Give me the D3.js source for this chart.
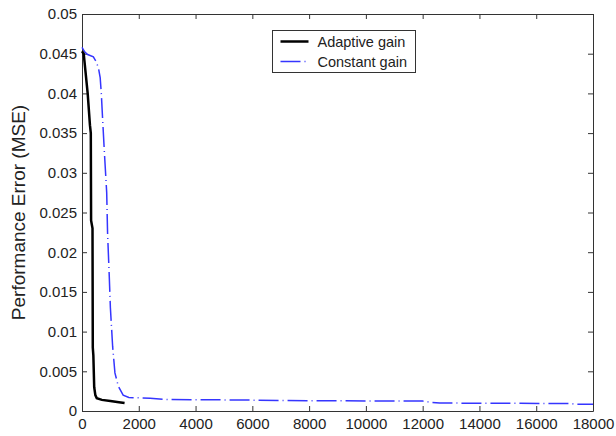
<!DOCTYPE html>
<html>
<head>
<meta charset="utf-8">
<script src="https://cdn.jsdelivr.net/npm/d3@7"></script>
<style>
  html, body { margin: 0; padding: 0; background: #fff; }
  text { font-family: "Liberation Sans", Arial, sans-serif; fill: #222; }
</style>
</head>
<body>
<div id="chart"></div>
<script>
// series names (legend)
const seriesNames = ['Adaptive gain', 'Constant gain'];

// axis ticks
const xTicks = [0, 2000, 4000, 6000, 8000, 10000, 12000, 14000, 16000, 18000];
const yTicks = [0, 0.005, 0.01, 0.015, 0.02, 0.025, 0.03, 0.035, 0.04, 0.045, 0.05];

// adaptive gain (solid black)
const adaptiveX = [0, 60, 200, 280, 310, 320, 370, 380, 400, 430, 470, 520, 700, 1000, 1300, 1500];
const adaptiveY = [0.0453, 0.045, 0.040, 0.036, 0.035, 0.024, 0.023, 0.008, 0.007, 0.003, 0.002, 0.0016, 0.0014, 0.00125, 0.0011, 0.001];

// constant gain (blue dash-dot)
const constantX = [0, 100, 200, 400, 500, 580, 640, 680, 730, 790, 870, 900, 960, 1000, 1080, 1160, 1280, 1450, 1650, 2400, 3000, 5000, 8000, 12000, 12300, 12600, 15000, 17200, 17400, 18000];
const constantY = [0.0458, 0.0452, 0.0449, 0.0446, 0.0440, 0.0432, 0.042, 0.040, 0.0365, 0.0325, 0.0275, 0.0225, 0.017, 0.013, 0.0081, 0.0048, 0.0031, 0.002, 0.0017, 0.0016, 0.00145, 0.0014, 0.0013, 0.00125, 0.0011, 0.001, 0.00097, 0.00095, 0.00085, 0.00085];

const width = 616, height = 436;
const margin = { top: 14, right: 23, bottom: 25, left: 82 };

const svg = d3.select('#chart')
  .append('svg')
  .attr('width', width)
  .attr('height', height);

const x = d3.scaleLinear().domain([0, 18000]).range([margin.left, width - margin.right]);
const y = d3.scaleLinear().domain([0, 0.05]).range([height - margin.bottom, margin.top]);

const axisColor = '#333';
const tickLen = 5;

// ticks inside, MATLAB style, on all four sides
const xAxisB = d3.axisBottom(x).tickValues(xTicks).tickSizeInner(-tickLen).tickSizeOuter(0).tickPadding(7).tickFormat(d3.format('d'));
const xAxisT = d3.axisTop(x).tickValues(xTicks).tickSizeInner(-tickLen).tickSizeOuter(0).tickFormat('');
const yAxisL = d3.axisLeft(y).tickValues(yTicks).tickSizeInner(-tickLen).tickSizeOuter(0).tickPadding(5).tickFormat(d => d === 0 ? '0' : d3.format('')(+d.toFixed(3)));
const yAxisR = d3.axisRight(y).tickValues(yTicks).tickSizeInner(-tickLen).tickSizeOuter(0).tickFormat('');

function styleAxis(g) {
  g.select('.domain').attr('stroke', axisColor);
  g.selectAll('.tick line').attr('stroke', axisColor);
  g.selectAll('.tick text').style('font-size', '15px').attr('fill', '#2a2a2a');
}

svg.append('g').attr('transform', `translate(0,${y(0)})`).call(xAxisB).call(styleAxis);
svg.append('g').attr('transform', `translate(0,${y(0.05)})`).call(xAxisT).call(styleAxis);
svg.append('g').attr('transform', `translate(${x(0)},0)`).call(yAxisL).call(styleAxis);
svg.append('g').attr('transform', `translate(${x(18000)},0)`).call(yAxisR).call(styleAxis);

// y label
svg.append('text')
  .attr('transform', `translate(25, ${(y(0) + y(0.05)) / 2}) rotate(-90)`)
  .attr('text-anchor', 'middle')
  .style('font-size', '19px')
  .attr('fill', '#2a2a2a')
  .text('Performance Error (MSE)');

const line = d3.line().x(d => x(d[0])).y(d => y(d[1]));

const adaptive = d3.zip(adaptiveX, adaptiveY);
const constant = d3.zip(constantX, constantY);

const blueDash = '20,4,1,4';

svg.append('path')
  .datum(constant)
  .attr('d', line)
  .attr('fill', 'none')
  .attr('stroke', '#3535ff')
  .attr('stroke-width', 1.5)
  .attr('stroke-dasharray', blueDash);

svg.append('path')
  .datum(adaptive)
  .attr('d', line)
  .attr('fill', 'none')
  .attr('stroke', '#000')
  .attr('stroke-width', 2.5);

// legend
const lg = svg.append('g').attr('transform', 'translate(272.5,30.5)');
lg.append('rect')
  .attr('width', 143)
  .attr('height', 42)
  .attr('fill', '#fff')
  .attr('stroke', '#333');

const legendStyles = [
  { stroke: '#000', w: 2.5, dash: null },
  { stroke: '#3535ff', w: 1.5, dash: '20,4,1,4' }
];
seriesNames.forEach((name, i) => {
  const yy = 11 + i * 20;
  lg.append('line')
    .attr('x1', 8).attr('x2', 36)
    .attr('y1', yy).attr('y2', yy)
    .attr('stroke', legendStyles[i].stroke)
    .attr('stroke-width', legendStyles[i].w)
    .attr('stroke-dasharray', legendStyles[i].dash);
  lg.append('text')
    .attr('x', 45)
    .attr('y', yy)
    .attr('dy', '0.35em')
    .style('font-size', '14.5px')
    .attr('fill', '#2a2a2a')
    .text(name);
});
</script>
</body>
</html>
